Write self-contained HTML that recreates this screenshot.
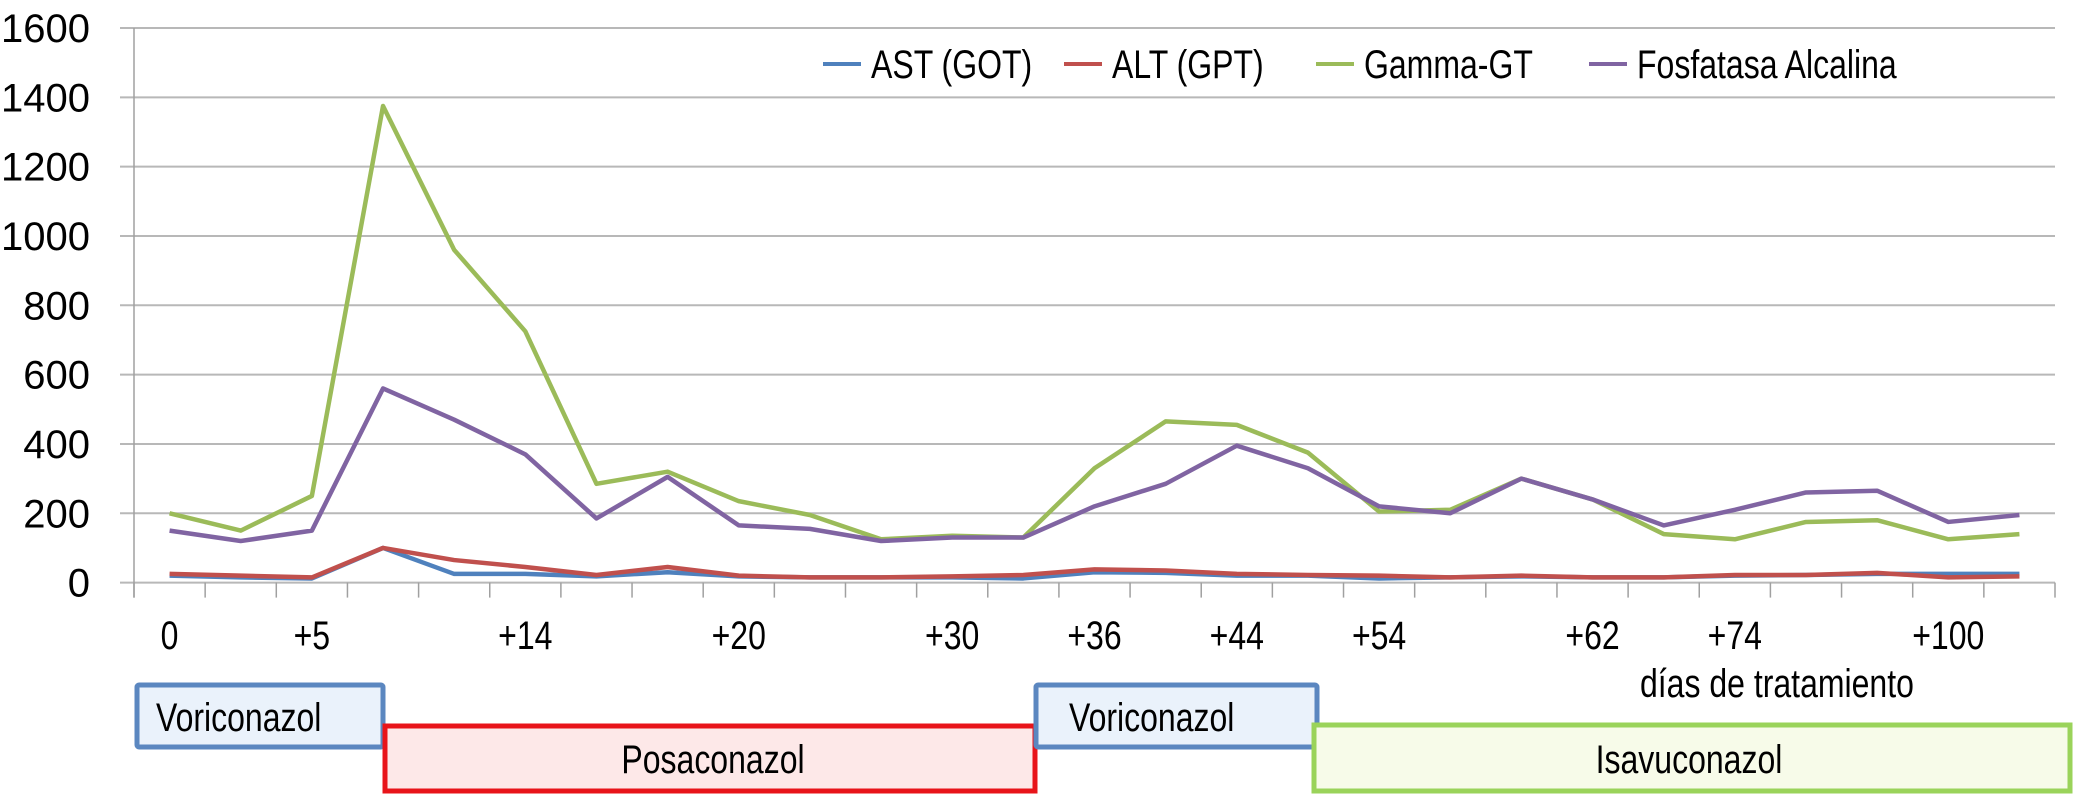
<!DOCTYPE html>
<html><head><meta charset="utf-8"><style>
body{margin:0;background:#fff;}
svg{display:block;font-family:"Liberation Sans Narrow","Liberation Sans",sans-serif;}
</style></head><body>
<svg id="chart" width="2084" height="798" viewBox="0 0 2084 798" xmlns="http://www.w3.org/2000/svg">
<g id="grid"></g>
<g id="yticks"></g>
<g id="xticks"></g>
<g id="series"></g>
<g id="legend"></g>
<text class="cond" x="1640" y="697" font-size="40" fill="#000">días de tratamiento</text>
<g>
<rect x="137" y="685" width="246" height="62" fill="#eaf2fb" stroke="#5b87c0" stroke-width="5" rx="2"/>
<text class="cond" x="156" y="731" font-size="40">Voriconazol</text></g>
<g>
<rect x="385" y="726" width="650" height="65" fill="#fde8e8" stroke="#e8141a" stroke-width="5"/>
<text class="cond" x="713" y="773" font-size="40" text-anchor="middle">Posaconazol</text></g>
<g>
<rect x="1036" y="685" width="281" height="62" fill="#eaf2fb" stroke="#5b87c0" stroke-width="5" rx="2"/>
<text class="cond" x="1069" y="731" font-size="40">Voriconazol</text></g>
<g>
<rect x="1314" y="725" width="756" height="66" fill="#f7fbe9" stroke="#9ad35a" stroke-width="5"/>
<text class="cond" x="1689" y="773" font-size="40" text-anchor="middle">Isavuconazol</text></g>
</svg>
<script>
const categories=["0","","+5","","","+14","","","+20","","","+30","","+36","","+44","","+54","","","+62","","+74","","","+100",""];
const astValues=[20,15,12,100,25,25,18,30,18,15,15,15,12,30,28,20,20,12,15,18,15,15,20,22,25,25,25];
const altValues=[25,20,15,100,65,45,22,45,20,15,15,18,22,38,35,25,22,20,15,20,15,15,22,22,28,15,18];
const ggtValues=[200,150,250,1375,960,725,285,320,235,195,125,135,130,330,465,455,375,205,210,300,240,140,125,175,180,125,140];
const faValues=[150,120,150,560,470,370,185,305,165,155,120,130,130,220,285,395,330,220,200,300,240,165,210,260,265,175,195];
const yTicks=[0,200,400,600,800,1000,1200,1400,1600];
const seriesNames=["AST (GOT)","ALT (GPT)","Gamma-GT","Fosfatasa Alcalina"];
const colors=["#4f81bd","#c0504d","#9bbb59","#8064a2"];
const NS="http://www.w3.org/2000/svg";
const L=134,R=2055,T=28,B=582.6,YMAX=1600;
const bw=(R-L)/categories.length;
const xs=i=>L+bw*(i+0.5);
const ys=v=>B-(v/YMAX)*(B-T);
function mk(tag,attrs,parent){const e=document.createElementNS(NS,tag);for(const k in attrs)e.setAttribute(k,attrs[k]);parent.appendChild(e);return e;}
const grid=document.getElementById('grid'),yt=document.getElementById('yticks'),xt=document.getElementById('xticks'),sg=document.getElementById('series'),lg=document.getElementById('legend');
yTicks.forEach(v=>{
 const l=mk('line',{x1:120,x2:R,y1:ys(v),y2:ys(v),stroke:'#b8b8b8','stroke-width':2},grid);
 
 
 const t=mk('text',{x:90,y:ys(v)+14,'font-size':40,'text-anchor':'end'},yt);
 t.textContent=v;
 
 
});
mk('line',{x1:L,x2:L,y1:T,y2:B+15,stroke:'#a0a0a0','stroke-width':1.5},grid);
for(let i=0;i<=categories.length;i++){
 mk('line',{x1:L+bw*i,x2:L+bw*i,y1:B,y2:B+15,stroke:'#a0a0a0','stroke-width':1.5},grid);
}
categories.forEach((c,i)=>{
 if(!c)return;
 const t=mk('text',{x:xs(i),y:649,'font-size':40,'text-anchor':'middle','class':'cond'},xt);
 t.textContent=c;
 
 
});
[astValues,altValues,ggtValues,faValues].forEach((vals,si)=>{
 const p=mk('polyline',{points:vals.map((v,i)=>xs(i)+','+ys(v)).join(' '),fill:'none',stroke:colors[si],'stroke-width':4.5,'stroke-linejoin':'round'},sg);
 
 
});
const lx=[823,1064,1316,1589];
seriesNames.forEach((n,i)=>{
 const g=mk('g',{},lg);
 
 
 mk('line',{x1:lx[i],x2:lx[i]+38,y1:64,y2:64,stroke:colors[i],'stroke-width':4},g);
 const t=mk('text',{x:lx[i]+48,y:78,'font-size':40,'class':'cond'},g);
 t.textContent=n;
});
document.querySelectorAll('text.cond').forEach(t=>{
 const w=t.getComputedTextLength();
 t.setAttribute('textLength',(w*0.8).toFixed(1));
 t.setAttribute('lengthAdjust','spacingAndGlyphs');
});
</script>
</body></html>
